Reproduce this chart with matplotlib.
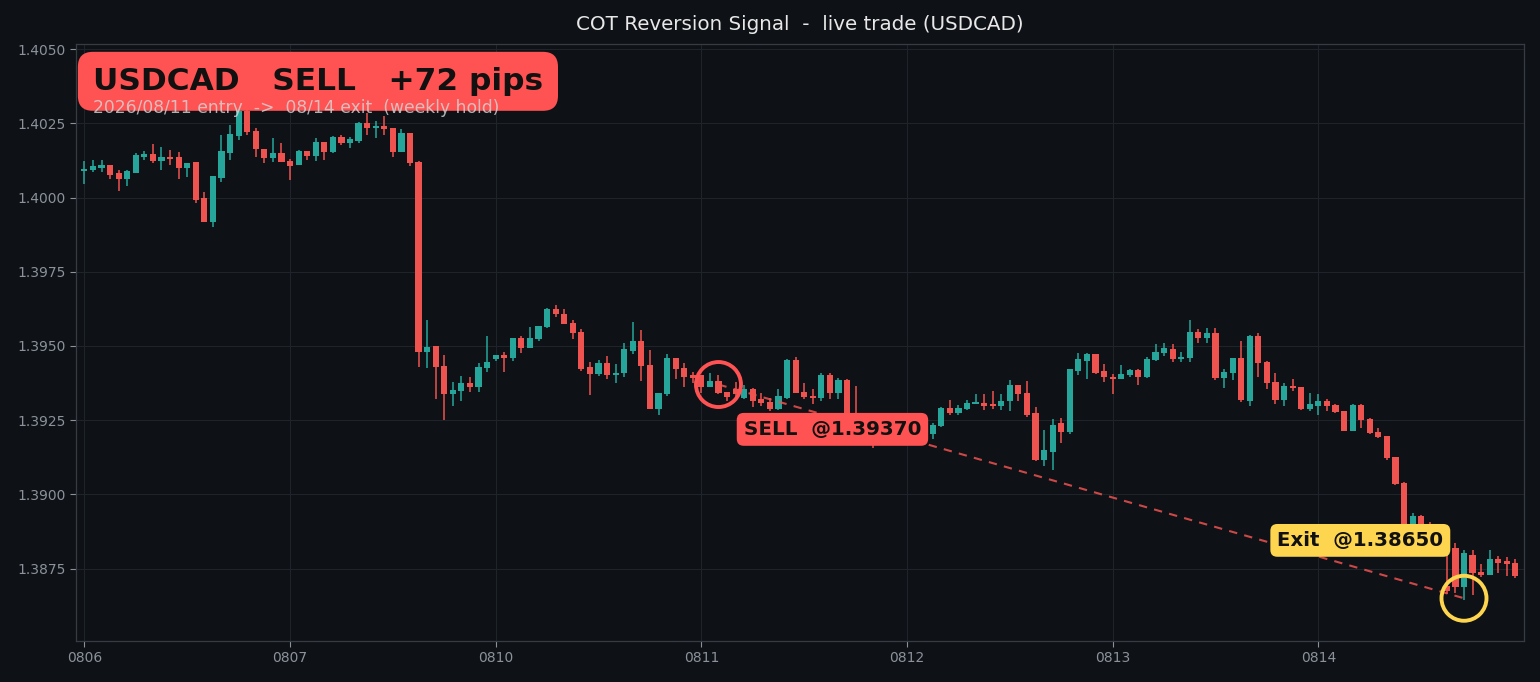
import numpy as np
import matplotlib
matplotlib.use("Agg")
import matplotlib.pyplot as plt

# hourly USDCAD candles, 24 per trading day
day_labels = ["0806", "0807", "0810", "0811", "0812", "0813", "0814"]

opens = [
    1.40089, 1.40091, 1.40101, 1.40108, 1.40081, 1.40063, 1.40083, 1.40136, 1.40145, 1.40124,
    1.40138, 1.40135, 1.40100, 1.40118, 1.39998, 1.39918, 1.40066, 1.40151, 1.40208, 1.40290,
    1.40223, 1.40164, 1.40134, 1.40149, 1.40123, 1.40108, 1.40155, 1.40140, 1.40188, 1.40154,
    1.40205, 1.40182, 1.40191, 1.40250, 1.40233, 1.40242, 1.40233, 1.40154, 1.40216, 1.40118,
    1.39479, 1.39499, 1.39433, 1.39338, 1.39349, 1.39375, 1.39363, 1.39427, 1.39456, 1.39470,
    1.39458, 1.39527, 1.39493, 1.39524, 1.39563, 1.39625, 1.39607, 1.39578, 1.39548, 1.39429,
    1.39407, 1.39441, 1.39402, 1.39408, 1.39483, 1.39516, 1.39437, 1.39286, 1.39337, 1.39461,
    1.39427, 1.39401, 1.39401, 1.39363, 1.39381, 1.39345, 1.39354, 1.39323, 1.39356, 1.39320,
    1.39312, 1.39286, 1.39325, 1.39452, 1.39346, 1.39333, 1.39323, 1.39401, 1.39342, 1.39384,
    1.39260, 1.39230, 1.39200, 1.39185, 1.39210, 1.39195, 1.39215, 1.39205, 1.39190, 1.39205,
    1.39230, 1.39292, 1.39275, 1.39288, 1.39306, 1.39309, 1.39303, 1.39297, 1.39313, 1.39367,
    1.39340, 1.39273, 1.39117, 1.39142, 1.39239, 1.39209, 1.39416, 1.39449, 1.39472, 1.39414,
    1.39396, 1.39390, 1.39402, 1.39418, 1.39395, 1.39453, 1.39476, 1.39491, 1.39457, 1.39461,
    1.39548, 1.39528, 1.39543, 1.39392, 1.39410, 1.39461, 1.39314, 1.39534, 1.39447, 1.39380,
    1.39318, 1.39365, 1.39361, 1.39286, 1.39297, 1.39314, 1.39301, 1.39280, 1.39213, 1.39300,
    1.39255, 1.39211, 1.39196, 1.39125, 1.39038, 1.38870, 1.38926, 1.38860, 1.38840, 1.38692,
    1.38819, 1.38689, 1.38796, 1.38740, 1.38729, 1.38782, 1.38774, 1.38768,
]
highs = [
    1.40123, 1.40128, 1.40125, 1.40108, 1.40092, 1.40092, 1.40149, 1.40158, 1.40180, 1.40169,
    1.40160, 1.40153, 1.40117, 1.40118, 1.40020, 1.40072, 1.40211, 1.40244, 1.40305, 1.40300,
    1.40233, 1.40164, 1.40199, 1.40182, 1.40130, 1.40160, 1.40155, 1.40202, 1.40188, 1.40208,
    1.40211, 1.40205, 1.40253, 1.40284, 1.40259, 1.40275, 1.40233, 1.40230, 1.40216, 1.40124,
    1.39586, 1.39499, 1.39471, 1.39380, 1.39400, 1.39396, 1.39442, 1.39535, 1.39470, 1.39479,
    1.39527, 1.39535, 1.39563, 1.39568, 1.39628, 1.39639, 1.39625, 1.39588, 1.39557, 1.39446,
    1.39453, 1.39466, 1.39438, 1.39511, 1.39579, 1.39553, 1.39486, 1.39342, 1.39472, 1.39461,
    1.39444, 1.39412, 1.39401, 1.39410, 1.39403, 1.39345, 1.39380, 1.39367, 1.39359, 1.39340,
    1.39325, 1.39356, 1.39455, 1.39464, 1.39374, 1.39356, 1.39408, 1.39408, 1.39393, 1.39387,
    1.39365, 1.39245, 1.39215, 1.39225, 1.39225, 1.39230, 1.39235, 1.39220, 1.39215, 1.39241,
    1.39295, 1.39318, 1.39300, 1.39318, 1.39337, 1.39337, 1.39348, 1.39337, 1.39384, 1.39367,
    1.39382, 1.39295, 1.39216, 1.39255, 1.39258, 1.39423, 1.39475, 1.39477, 1.39472, 1.39438,
    1.39404, 1.39435, 1.39423, 1.39421, 1.39464, 1.39506, 1.39511, 1.39506, 1.39480, 1.39587,
    1.39556, 1.39562, 1.39562, 1.39423, 1.39461, 1.39517, 1.39536, 1.39542, 1.39449, 1.39410,
    1.39376, 1.39390, 1.39361, 1.39342, 1.39339, 1.39322, 1.39305, 1.39280, 1.39306, 1.39303,
    1.39258, 1.39224, 1.39198, 1.39125, 1.39040, 1.38937, 1.38931, 1.38906, 1.38860, 1.38800,
    1.38836, 1.38813, 1.38813, 1.38766, 1.38813, 1.38791, 1.38788, 1.38782,
]
lows = [
    1.40047, 1.40087, 1.40087, 1.40061, 1.40023, 1.40039, 1.40081, 1.40126, 1.40115, 1.40092,
    1.40109, 1.40063, 1.40070, 1.39982, 1.39917, 1.39901, 1.40053, 1.40126, 1.40195, 1.40211,
    1.40137, 1.40115, 1.40121, 1.40118, 1.40059, 1.40108, 1.40126, 1.40124, 1.40128, 1.40150,
    1.40177, 1.40166, 1.40185, 1.40211, 1.40199, 1.40211, 1.40137, 1.40154, 1.40107, 1.39428,
    1.39426, 1.39321, 1.39250, 1.39299, 1.39315, 1.39344, 1.39344, 1.39411, 1.39448, 1.39411,
    1.39448, 1.39475, 1.39493, 1.39516, 1.39561, 1.39599, 1.39574, 1.39524, 1.39417, 1.39334,
    1.39399, 1.39390, 1.39376, 1.39395, 1.39472, 1.39382, 1.39286, 1.39266, 1.39331, 1.39387,
    1.39362, 1.39376, 1.39342, 1.39363, 1.39337, 1.39314, 1.39320, 1.39320, 1.39295, 1.39297,
    1.39280, 1.39284, 1.39320, 1.39342, 1.39320, 1.39303, 1.39314, 1.39322, 1.39320, 1.39240,
    1.39215, 1.39180, 1.39157, 1.39170, 1.39180, 1.39185, 1.39190, 1.39180, 1.39180, 1.39185,
    1.39228, 1.39266, 1.39266, 1.39284, 1.39303, 1.39284, 1.39286, 1.39284, 1.39280, 1.39314,
    1.39261, 1.39112, 1.39097, 1.39081, 1.39173, 1.39202, 1.39401, 1.39387, 1.39404, 1.39378,
    1.39337, 1.39387, 1.39395, 1.39367, 1.39393, 1.39449, 1.39466, 1.39446, 1.39446, 1.39446,
    1.39511, 1.39511, 1.39385, 1.39359, 1.39385, 1.39312, 1.39297, 1.39395, 1.39354, 1.39306,
    1.39297, 1.39348, 1.39284, 1.39280, 1.39267, 1.39280, 1.39275, 1.39213, 1.39213, 1.39224,
    1.39204, 1.39190, 1.39115, 1.39032, 1.38860, 1.38860, 1.38855, 1.38820, 1.38800, 1.38665,
    1.38667, 1.38644, 1.38661, 1.38721, 1.38729, 1.38736, 1.38725, 1.38717,
]
closes = [
    1.40096, 1.40105, 1.40108, 1.40077, 1.40064, 1.40089, 1.40143, 1.40145, 1.40124, 1.40137,
    1.40131, 1.40100, 1.40117, 1.39993, 1.39918, 1.40072, 1.40155, 1.40214, 1.40290, 1.40222,
    1.40162, 1.40134, 1.40149, 1.40118, 1.40107, 1.40155, 1.40140, 1.40188, 1.40154, 1.40205,
    1.40182, 1.40196, 1.40250, 1.40233, 1.40242, 1.40230, 1.40154, 1.40216, 1.40115, 1.39479,
    1.39496, 1.39428, 1.39338, 1.39351, 1.39375, 1.39363, 1.39430, 1.39447, 1.39470, 1.39458,
    1.39527, 1.39493, 1.39527, 1.39568, 1.39625, 1.39606, 1.39574, 1.39544, 1.39422, 1.39407,
    1.39441, 1.39402, 1.39410, 1.39489, 1.39516, 1.39432, 1.39286, 1.39342, 1.39461, 1.39421,
    1.39395, 1.39392, 1.39363, 1.39381, 1.39342, 1.39328, 1.39337, 1.39354, 1.39314, 1.39309,
    1.39286, 1.39331, 1.39452, 1.39342, 1.39328, 1.39323, 1.39401, 1.39340, 1.39384, 1.39260,
    1.39230, 1.39200, 1.39185, 1.39210, 1.39195, 1.39215, 1.39205, 1.39190, 1.39205, 1.39235,
    1.39292, 1.39275, 1.39292, 1.39309, 1.39311, 1.39297, 1.39297, 1.39316, 1.39367, 1.39337,
    1.39266, 1.39117, 1.39151, 1.39235, 1.39209, 1.39421, 1.39455, 1.39472, 1.39408, 1.39395,
    1.39390, 1.39407, 1.39418, 1.39395, 1.39457, 1.39481, 1.39492, 1.39455, 1.39464, 1.39548,
    1.39528, 1.39543, 1.39392, 1.39413, 1.39461, 1.39318, 1.39534, 1.39444, 1.39376, 1.39318,
    1.39365, 1.39357, 1.39286, 1.39305, 1.39316, 1.39297, 1.39278, 1.39213, 1.39300, 1.39250,
    1.39207, 1.39194, 1.39121, 1.39035, 1.38870, 1.38928, 1.38860, 1.38840, 1.38830, 1.38676,
    1.38689, 1.38802, 1.38736, 1.38729, 1.38782, 1.38768, 1.38766, 1.38725,
]

entry_idx, entry_px = 74, 1.39370
exit_idx, exit_px = 161, 1.38650

BG = "#0e1116"
UP = "#26a69a"
DOWN = "#ef5350"
BOX_RED = "#ff5252"
YELLOW = "#fdd54f"

o = np.array(opens)
h = np.array(highs)
l = np.array(lows)
c = np.array(closes)
x = np.arange(len(o))
colors = np.where(c >= o, UP, DOWN)

fig = plt.figure(figsize=(15.4, 6.82), dpi=100, facecolor=BG)
ax = fig.add_axes([0.0495, 0.0601, 0.9401, 0.8749])
ax.set_facecolor(BG)

# candles
ax.vlines(x, l, h, colors=colors, linewidth=1.1, zorder=2)
body_lo = np.minimum(o, c)
body_h = np.maximum(np.abs(c - o), 0.00003)
ax.bar(x, body_h, bottom=body_lo, width=0.72, color=colors, linewidth=0, zorder=3)

# trade path
ax.plot([entry_idx, exit_idx], [entry_px, exit_px], color=DOWN, linestyle=(0, (4, 3.5)),
        linewidth=1.5, alpha=0.85, zorder=4)
ax.scatter([entry_idx], [entry_px], s=1050, facecolors="none", edgecolors=BOX_RED,
           linewidths=2.8, zorder=5)
ax.scatter([exit_idx], [exit_px], s=1050, facecolors="none", edgecolors=YELLOW,
           linewidths=2.8, zorder=5)

ax.text(entry_idx + 13.3, entry_px - 0.00151, f"SELL  @{entry_px:.5f}", fontsize=14.3,
        fontweight="bold", color="#111111", ha="center", va="center", zorder=6,
        bbox=dict(boxstyle="round,pad=0.35", fc=BOX_RED, ec="none"))
ax.text(exit_idx - 12.1, exit_px + 0.00195, f"Exit  @{exit_px:.5f}", fontsize=14.2,
        fontweight="bold", color="#111111", ha="center", va="center", zorder=6,
        bbox=dict(boxstyle="round,pad=0.35", fc=YELLOW, ec="none"))

# header box
ax.text(0.0115, 0.938, "USDCAD   SELL   +72 pips", transform=ax.transAxes, fontsize=22.5,
        fontweight="bold", color="#111111", ha="left", va="center", zorder=7,
        bbox=dict(boxstyle="round,pad=0.48", fc=BOX_RED, ec="none"))
ax.text(0.0115, 0.893, "2026/08/11 entry  ->  08/14 exit  (weekly hold)",
        transform=ax.transAxes, fontsize=12.3, color="#d8d8d8", alpha=0.8,
        ha="left", va="center", zorder=8)

fig.text(0.5195, 1 - 24 / 682, "COT Reversion Signal  -  live trade (USDCAD)",
         fontsize=14.3, color="#e8e8e8", ha="center", va="center")

ax.set_xlim(-0.95, 168)
ax.set_ylim(1.38506, 1.40516)
ax.set_xticks(np.arange(0, len(o), 24))
ax.set_xticklabels(day_labels)
ax.set_yticks(np.arange(1.3875, 1.40501, 0.0025))
ax.yaxis.set_major_formatter(matplotlib.ticker.FormatStrFormatter("%.4f"))
ax.tick_params(colors="#8b929b", labelsize=10, length=4, width=0.8)
ax.grid(True, color="#1f242b", linewidth=0.8, zorder=0)
ax.set_axisbelow(True)
for sp in ax.spines.values():
    sp.set_color("#363b44")
    sp.set_linewidth(0.9)

fig.savefig("out.png", dpi=100, facecolor=BG)
